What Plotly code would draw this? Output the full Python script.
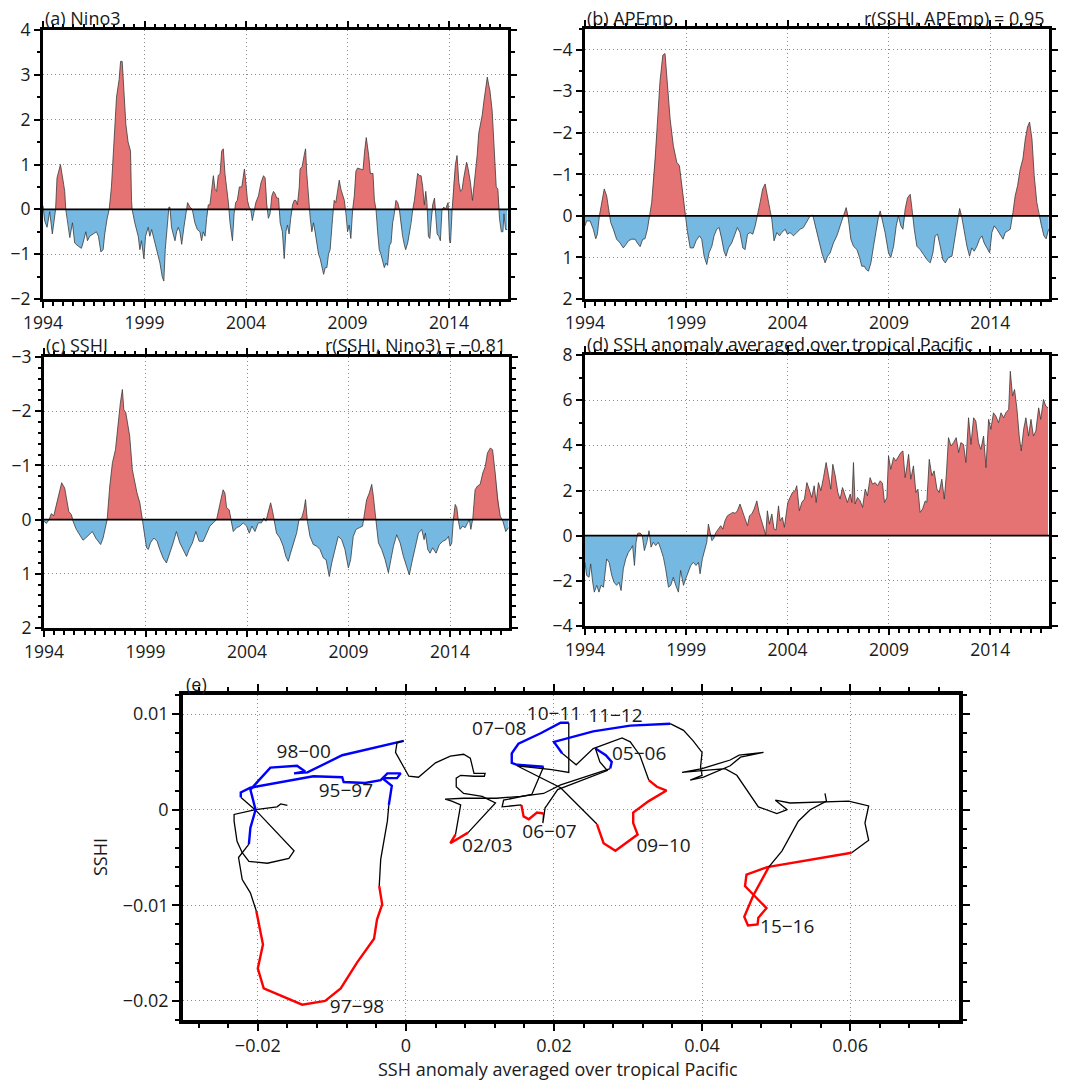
import numpy as np
import plotly.graph_objects as go

FONT = "Open Sans"
TXT = "#1a1a1a"
RED_FILL = "rgb(229,115,115)"
BLUE_FILL = "rgb(117,185,227)"

# ---------------- (a) Nino3 ----------------
a_t = [1994.00,1994.08,1994.20,1994.33,1994.46,1994.62,1994.69,1994.86,1995.02,1995.07,1995.12,1995.23,1995.32,1995.45,1995.56,1995.73,1995.89,1995.97,1996.11,1996.19,1996.30,1996.47,1996.63,1996.73,1996.85,1996.96,1997.04,1997.16,1997.26,1997.37,1997.54,1997.62,1997.75,1997.82,1997.90,1997.98,1998.08,1998.19,1998.31,1998.36,1998.39,1998.52,1998.69,1998.77,1998.85,1998.97,1999.05,1999.18,1999.26,1999.35,1999.43,1999.59,1999.76,1999.87,1999.95,2000.02,2000.13,2000.20,2000.25,2000.33,2000.41,2000.50,2000.58,2000.66,2000.74,2000.83,2000.94,2001.04,2001.12,2001.24,2001.35,2001.48,2001.60,2001.73,2001.81,2001.89,2001.98,2002.06,2002.14,2002.22,2002.31,2002.39,2002.47,2002.55,2002.63,2002.72,2002.80,2002.88,2002.96,2003.05,2003.13,2003.21,2003.33,2003.41,2003.49,2003.57,2003.67,2003.79,2003.92,2004.00,2004.07,2004.15,2004.23,2004.31,2004.39,2004.48,2004.61,2004.74,2004.86,2004.94,2005.02,2005.10,2005.18,2005.27,2005.35,2005.43,2005.51,2005.60,2005.68,2005.79,2005.88,2005.96,2006.04,2006.12,2006.20,2006.29,2006.37,2006.45,2006.53,2006.62,2006.66,2006.76,2006.86,2006.93,2006.99,2007.08,2007.16,2007.24,2007.32,2007.40,2007.49,2007.57,2007.65,2007.73,2007.82,2007.90,2007.98,2008.06,2008.14,2008.26,2008.34,2008.42,2008.51,2008.59,2008.67,2008.75,2008.84,2008.92,2009.00,2009.08,2009.16,2009.25,2009.33,2009.41,2009.49,2009.63,2009.76,2009.84,2009.92,2010.04,2010.12,2010.20,2010.25,2010.32,2010.40,2010.48,2010.56,2010.64,2010.73,2010.81,2010.89,2010.97,2011.06,2011.14,2011.22,2011.30,2011.38,2011.47,2011.55,2011.63,2011.71,2011.80,2011.86,2011.96,2012.04,2012.13,2012.21,2012.29,2012.37,2012.45,2012.54,2012.62,2012.70,2012.78,2012.85,2012.91,2012.98,2013.05,2013.11,2013.19,2013.28,2013.33,2013.41,2013.49,2013.57,2013.65,2013.74,2013.82,2013.90,2013.95,2014.02,2014.07,2014.15,2014.23,2014.31,2014.39,2014.48,2014.56,2014.64,2014.72,2014.86,2014.94,2015.05,2015.15,2015.22,2015.30,2015.38,2015.46,2015.55,2015.63,2015.71,2015.79,2015.88,2015.96,2016.01,2016.12,2016.20,2016.32,2016.40,2016.48,2016.57,2016.65,2016.70,2016.78,2016.86]
a_v = [0.08,-0.25,-0.40,-0.05,-0.55,0.00,0.70,1.00,0.55,0.40,0.00,-0.30,-0.63,-0.30,-0.75,-0.82,-0.87,-0.75,-0.50,-0.70,-0.60,-0.55,-0.50,-0.60,-0.95,-0.90,-0.55,-0.20,0.00,0.50,1.70,2.50,2.90,3.30,3.30,2.70,1.90,1.50,1.30,0.20,0.00,-0.30,-0.60,-0.90,-0.70,-1.10,-0.60,-0.40,-0.60,-0.45,-0.60,-0.90,-1.20,-1.50,-1.60,-0.90,-0.20,0.05,0.05,-0.40,-0.55,-0.70,-0.50,-0.40,-0.50,-0.78,-0.40,-0.10,0.15,0.05,0.00,-0.30,-0.45,-0.50,-0.70,-0.50,-0.60,-0.20,0.10,0.10,0.40,0.75,0.45,0.40,0.75,0.80,1.30,1.35,0.80,0.50,0.15,-0.30,-0.70,-0.10,0.15,0.20,0.50,0.50,0.90,0.55,0.20,0.05,0.00,-0.25,-0.05,0.15,0.30,0.60,0.75,0.70,0.10,-0.20,-0.10,0.30,0.40,0.35,0.25,0.25,-0.30,-0.50,-1.10,-0.50,-0.35,-0.55,-0.20,0.10,0.20,0.20,0.10,0.50,0.90,0.95,1.20,1.35,0.80,0.20,-0.20,-0.50,-0.30,-0.50,-0.80,-1.00,-1.10,-1.30,-1.45,-1.30,-1.30,-1.00,-0.90,-0.20,0.20,0.15,0.40,0.65,0.45,0.35,0.20,-0.10,-0.50,-0.35,-0.65,0.00,0.30,0.85,0.92,0.90,0.88,1.30,1.60,1.20,0.80,0.80,0.80,0.20,0.00,-0.50,-0.90,-1.00,-1.15,-1.30,-1.20,-1.25,-0.80,-0.75,-0.30,-0.10,0.20,0.15,0.00,-0.35,-0.60,-0.80,-0.90,-0.75,-0.55,-0.30,0.00,0.20,0.50,0.80,0.75,0.75,0.50,0.10,0.40,0.15,-0.60,-0.65,-0.30,0.10,0.25,0.00,-0.55,-0.60,-0.70,0.00,0.05,0.00,0.10,0.15,-0.70,-0.75,0.00,0.60,1.00,1.20,0.60,0.40,0.45,0.70,1.05,0.90,0.60,0.20,0.50,1.00,1.20,1.70,1.90,2.10,2.40,2.70,2.95,2.75,2.65,2.20,1.50,0.50,0.45,-0.20,-0.50,-0.50,-0.10,-0.45,-0.45]

# ---------------- (b) APEmp ----------------
b_t = [1994.00,1994.08,1994.25,1994.41,1994.53,1994.61,1994.71,1994.82,1994.95,1995.07,1995.19,1995.27,1995.40,1995.56,1995.73,1995.89,1996.02,1996.14,1996.30,1996.47,1996.58,1996.72,1996.85,1996.96,1997.08,1997.18,1997.29,1997.46,1997.57,1997.70,1997.84,1997.95,1998.07,1998.20,1998.36,1998.53,1998.66,1998.77,1998.89,1998.97,1999.05,1999.19,1999.35,1999.48,1999.65,1999.76,1999.88,2000.01,2000.12,2000.26,2000.37,2000.50,2000.62,2000.75,2000.86,2000.96,2001.08,2001.24,2001.41,2001.52,2001.65,2001.79,2001.90,2002.02,2002.15,2002.28,2002.40,2002.51,2002.64,2002.77,2002.89,2003.00,2003.14,2003.22,2003.33,2003.47,2003.60,2003.71,2003.88,2003.99,2004.12,2004.29,2004.45,2004.62,2004.78,2004.95,2005.11,2005.24,2005.36,2005.52,2005.69,2005.85,2005.97,2006.10,2006.26,2006.43,2006.59,2006.76,2006.89,2007.00,2007.12,2007.25,2007.42,2007.55,2007.66,2007.78,2007.88,2007.99,2008.11,2008.24,2008.37,2008.49,2008.57,2008.68,2008.81,2008.98,2009.09,2009.23,2009.36,2009.47,2009.59,2009.69,2009.80,2009.92,2010.05,2010.16,2010.25,2010.38,2010.54,2010.71,2010.87,2011.04,2011.17,2011.28,2011.40,2011.53,2011.66,2011.78,2011.94,2012.11,2012.24,2012.39,2012.49,2012.60,2012.72,2012.85,2012.98,2013.09,2013.21,2013.34,2013.47,2013.59,2013.70,2013.84,2013.97,2014.08,2014.20,2014.33,2014.46,2014.63,2014.74,2014.86,2014.99,2015.12,2015.23,2015.35,2015.48,2015.61,2015.73,2015.84,2015.94,2016.06,2016.17,2016.30,2016.41,2016.53,2016.65,2016.76,2016.88]
b_v = [0.24,0.12,0.12,0.32,0.55,0.44,0.00,-0.32,-0.65,-0.48,-0.08,0.16,0.32,0.56,0.65,0.77,0.69,0.60,0.56,0.56,0.65,0.74,0.56,0.55,0.32,0.04,-0.32,-1.37,-2.18,-3.23,-3.87,-3.91,-3.15,-2.34,-1.69,-1.29,-1.21,-0.73,-0.24,0.00,0.36,0.77,0.77,0.60,0.48,0.56,0.97,1.17,0.89,0.73,0.48,0.32,0.28,0.56,0.85,0.97,0.77,0.65,0.40,0.28,0.40,0.77,0.81,0.44,0.40,0.44,0.24,0.00,-0.32,-0.65,-0.77,-0.48,-0.08,0.08,0.60,0.40,0.48,0.40,0.32,0.44,0.40,0.48,0.40,0.32,0.28,0.12,0.00,-0.02,0.24,0.56,0.89,1.13,0.97,0.89,0.65,0.48,0.24,0.00,-0.20,0.08,0.56,0.73,0.81,1.00,1.21,1.21,1.29,1.33,1.13,0.73,0.32,0.00,-0.12,0.12,0.40,0.89,1.00,0.73,0.24,0.00,0.24,0.32,-0.16,-0.44,-0.52,-0.08,0.32,0.73,0.81,0.93,1.05,1.13,0.89,0.48,0.44,0.73,1.05,1.13,1.00,0.97,0.56,0.08,-0.18,0.04,0.40,0.73,0.97,0.77,0.85,0.73,0.56,0.48,0.65,0.77,0.89,0.40,0.24,0.32,0.44,0.56,0.40,0.36,0.32,-0.08,-0.48,-0.73,-1.13,-1.37,-1.85,-2.14,-2.26,-1.85,-0.97,-0.32,0.00,0.24,0.48,0.55,0.32]

# ---------------- (c) SSHI ----------------
c_t = [1994.00,1994.12,1994.25,1994.36,1994.48,1994.61,1994.74,1994.87,1995.02,1995.10,1995.22,1995.35,1995.43,1995.59,1995.76,1995.92,1996.05,1996.22,1996.38,1996.55,1996.71,1996.79,1996.91,1997.02,1997.11,1997.24,1997.37,1997.52,1997.65,1997.76,1997.86,1997.93,1998.03,1998.14,1998.22,1998.35,1998.47,1998.58,1998.72,1998.85,1998.96,1999.05,1999.14,1999.24,1999.41,1999.57,1999.70,1999.87,2000.03,2000.20,2000.36,2000.52,2000.69,2000.85,2001.02,2001.15,2001.31,2001.48,2001.64,2001.84,2002.00,2002.17,2002.33,2002.50,2002.66,2002.82,2002.91,2002.99,2003.12,2003.22,2003.32,2003.48,2003.65,2003.81,2003.98,2004.11,2004.24,2004.39,2004.55,2004.71,2004.83,2004.93,2005.04,2005.16,2005.26,2005.32,2005.45,2005.62,2005.78,2005.91,2006.03,2006.14,2006.28,2006.44,2006.56,2006.69,2006.80,2006.88,2006.97,2007.10,2007.26,2007.43,2007.59,2007.76,2007.89,2008.05,2008.17,2008.33,2008.49,2008.66,2008.82,2008.99,2009.10,2009.23,2009.37,2009.53,2009.69,2009.81,2009.89,2010.02,2010.14,2010.22,2010.34,2010.47,2010.63,2010.80,2010.96,2011.08,2011.21,2011.37,2011.54,2011.70,2011.86,2011.99,2012.11,2012.27,2012.44,2012.60,2012.72,2012.78,2012.90,2013.01,2013.14,2013.31,2013.47,2013.64,2013.80,2013.92,2014.00,2014.08,2014.16,2014.25,2014.33,2014.41,2014.49,2014.62,2014.74,2014.86,2014.95,2015.02,2015.12,2015.23,2015.35,2015.48,2015.61,2015.73,2015.84,2015.98,2016.09,2016.22,2016.34,2016.47,2016.60,2016.74,2016.87]
c_v = [0.03,0.07,0.00,-0.11,-0.07,-0.28,-0.49,-0.68,-0.58,-0.37,-0.15,-0.09,0.03,0.18,0.28,0.38,0.34,0.28,0.22,0.34,0.43,0.46,0.34,0.18,0.00,-0.62,-1.05,-1.29,-1.78,-2.15,-2.40,-2.03,-1.97,-1.66,-1.54,-0.92,-0.68,-0.49,-0.31,0.00,0.31,0.52,0.55,0.43,0.34,0.40,0.55,0.71,0.80,0.62,0.43,0.22,0.43,0.55,0.68,0.55,0.43,0.22,0.40,0.40,0.25,0.12,0.06,0.00,-0.28,-0.55,-0.49,-0.22,-0.18,0.03,0.22,0.15,0.12,0.06,0.12,0.25,0.12,0.22,0.06,0.06,-0.03,0.03,-0.15,-0.31,-0.15,0.00,0.25,0.34,0.49,0.68,0.77,0.62,0.43,0.25,0.00,-0.03,-0.18,-0.37,0.03,0.31,0.46,0.49,0.55,0.71,0.74,1.05,0.80,0.55,0.31,0.37,0.55,0.89,0.74,0.31,0.18,0.15,0.12,-0.18,-0.37,-0.49,-0.65,-0.43,0.00,0.43,0.55,0.74,0.98,0.74,0.49,0.28,0.43,0.68,0.86,1.02,0.80,0.55,0.25,0.18,0.37,0.25,0.55,0.62,0.52,0.62,0.46,0.40,0.37,0.31,0.49,0.43,0.00,-0.28,-0.22,0.03,0.18,0.12,0.15,0.06,0.00,0.18,-0.03,-0.55,-0.62,-0.65,-0.86,-0.98,-1.23,-1.32,-1.29,-0.86,-0.37,-0.06,0.03,0.22,0.15]

# ---------------- (d) SSH anomaly averaged over tropical Pacific ----------------
d_t = [1994.00,1994.08,1994.20,1994.28,1994.38,1994.46,1994.58,1994.69,1994.79,1994.91,1995.07,1995.19,1995.32,1995.43,1995.56,1995.68,1995.78,1995.89,1996.01,1996.14,1996.26,1996.35,1996.44,1996.52,1996.60,1996.72,1996.83,1996.93,1997.05,1997.16,1997.26,1997.37,1997.49,1997.62,1997.74,1997.87,1997.98,1998.12,1998.23,1998.36,1998.48,1998.61,1998.72,1998.86,1998.97,1999.10,1999.22,1999.35,1999.48,1999.60,1999.68,1999.79,1999.93,2000.01,2000.09,2000.17,2000.26,2000.34,2000.45,2000.58,2000.70,2000.80,2000.91,2001.03,2001.16,2001.29,2001.41,2001.52,2001.65,2001.79,2001.90,2002.02,2002.12,2002.23,2002.35,2002.48,2002.59,2002.72,2002.84,2002.92,2003.00,2003.10,2003.22,2003.33,2003.43,2003.55,2003.63,2003.74,2003.84,2004.01,2004.12,2004.24,2004.37,2004.45,2004.58,2004.70,2004.83,2004.95,2005.06,2005.19,2005.31,2005.41,2005.52,2005.64,2005.77,2005.90,2006.02,2006.13,2006.23,2006.35,2006.48,2006.59,2006.71,2006.84,2006.95,2007.09,2007.17,2007.25,2007.33,2007.45,2007.58,2007.70,2007.83,2007.94,2008.07,2008.19,2008.32,2008.44,2008.57,2008.68,2008.78,2008.90,2008.98,2009.09,2009.23,2009.34,2009.47,2009.59,2009.69,2009.80,2009.88,2009.97,2010.08,2010.21,2010.33,2010.43,2010.54,2010.66,2010.79,2010.87,2010.99,2011.12,2011.23,2011.37,2011.48,2011.61,2011.73,2011.83,2011.94,2012.06,2012.19,2012.32,2012.44,2012.55,2012.68,2012.80,2012.93,2013.05,2013.18,2013.29,2013.42,2013.54,2013.67,2013.79,2013.92,2014.03,2014.16,2014.28,2014.41,2014.53,2014.66,2014.77,2014.91,2014.99,2015.10,2015.20,2015.32,2015.43,2015.53,2015.65,2015.76,2015.89,2016.01,2016.13,2016.25,2016.39,2016.49,2016.63,2016.74,2016.85]
d_v = [-1.18,-1.76,-1.84,-1.25,-2.06,-2.50,-2.20,-2.50,-2.20,-2.28,-1.03,-1.18,-1.76,-2.06,-2.20,-2.06,-2.43,-1.47,-1.03,-0.74,-0.59,-0.44,-1.32,-0.29,0.10,0.12,0.00,-0.66,-0.29,0.22,-0.51,-0.29,-0.44,-0.29,-0.59,-0.96,-1.47,-2.28,-2.20,-1.84,-2.20,-2.50,-1.54,-2.20,-1.91,-1.62,-1.32,-1.18,-1.32,-1.18,-1.69,-1.03,-0.59,-0.29,0.51,0.22,-0.22,-0.15,0.12,0.29,0.44,0.29,0.66,0.88,0.96,1.03,0.99,1.10,1.40,1.03,0.66,0.44,0.88,0.96,1.18,1.54,1.03,0.66,0.29,0.03,1.10,0.51,0.96,0.29,0.25,1.32,0.66,0.81,0.37,1.47,1.69,1.91,1.99,2.21,1.10,1.47,1.62,2.35,2.06,1.69,2.21,1.47,2.35,1.99,2.57,3.24,2.65,2.06,3.16,2.65,1.91,1.62,2.13,1.76,1.47,1.84,1.47,3.24,1.40,1.69,1.54,1.25,2.06,1.76,2.57,2.28,2.35,2.21,2.43,2.32,1.47,1.69,3.53,2.94,3.46,3.31,3.53,3.68,3.75,2.57,3.01,3.60,2.50,3.09,1.91,2.06,1.03,1.18,1.54,1.47,3.38,2.65,2.87,2.06,1.91,2.50,1.62,2.65,4.34,3.97,4.12,4.34,3.68,4.12,4.04,3.24,5.22,4.04,5.22,5.07,4.12,3.82,4.41,3.01,5.15,4.71,5.44,5.29,5.00,5.44,5.22,5.44,5.59,7.28,6.18,6.47,5.59,4.41,3.75,4.71,5.22,4.41,5.15,4.41,4.63,5.66,5.15,6.03,5.74,5.66]

# ---------------- (e) phase trajectory ----------------
e_x = [-0.0160,-0.0169,-0.0174,-0.0203,-0.0232,-0.0232,-0.0228,-0.0221,-0.0212,-0.0187,-0.0158,-0.0151,-0.0201,-0.0215,-0.0223,
       -0.0223,-0.0210,-0.0125,-0.0086,-0.0084,-0.0055,-0.0034,-0.0025,-0.0007,-0.0012,-0.0032,-0.0019,-0.0023,
       -0.0025,-0.0034,-0.0036,
       -0.0032,-0.0039,-0.0043,-0.0066,-0.0088,-0.0109,-0.0140,-0.0192,-0.0200,-0.0193,-0.0201,-0.0202,
       -0.0210,-0.0221,-0.0226,-0.0212,
       -0.0210,-0.0203,-0.0210,-0.0183,-0.0147,-0.0136,-0.0151,-0.0133,-0.0086,-0.0003,
       -0.0012,-0.0014,-0.0005,0.0004,0.0017,0.0040,0.0060,0.0078,0.0087,0.0092,0.0107,0.0106,0.0092,0.0074,0.0068,0.0068,0.0078,0.0103,0.0121,0.0084,
       0.0060,0.0067,
       0.0071,0.0074,0.0062,0.0053,0.0078,0.0122,0.0155,0.0186,0.0209,0.0276,
       0.0278,0.0270,0.0256,
       0.0262,0.0272,0.0205,0.0190,0.0188,0.0185,0.0186,
       0.0177,0.0166,0.0159,0.0156,
       0.0130,0.0132,0.0170,0.0186,
       0.0150,0.0143,0.0143,0.0152,0.0182,0.0209,0.0220,
       0.0220,0.0197,0.0150,0.0209,0.0258,
       0.0267,0.0283,0.0313,0.0307,0.0307,0.0328,0.0352,0.0339,0.0328,
       0.0316,0.0303,0.0292,0.0253,0.0230,0.0211,
       0.0200,0.0253,0.0303,0.0357,
       0.0375,0.0388,0.0400,0.0398,0.0400,0.0384,0.0402,0.0438,0.0452,0.0483,0.0450,0.0438,0.0400,0.0373,0.0416,0.0431,0.0447,0.0476,0.0501,0.0515,0.0499,0.0519,0.0598,0.0625,0.0620,0.0625,0.0602,
       0.0488,0.0460,0.0458,0.0487,0.0476,0.0475,0.0462,0.0457,0.0469,0.0490,
       0.0508,0.0530,0.0546,0.0568,0.0566]
e_y = [0.00045,0.0006,0.0003,0.0000,-0.0005,-0.0012,-0.0033,-0.0045,-0.0054,-0.0056,-0.0051,-0.0043,-0.0002,0.0008,0.0013,
       0.0018,0.0023,0.0035,0.0034,0.0029,0.0028,0.0031,0.0038,0.0038,0.0033,0.0033,0.0025,0.0005,
       -0.0012,-0.0052,-0.0080,
       -0.0099,-0.0115,-0.0135,-0.0160,-0.0187,-0.0200,-0.0204,-0.0187,-0.0166,-0.0141,-0.0111,-0.0106,
       -0.0087,-0.0073,-0.0050,-0.0036,
       -0.0019,0.0000,0.0021,0.0044,0.0046,0.0040,0.0038,0.0039,0.0057,0.0072,
       0.0070,0.0060,0.0047,0.0035,0.0034,0.0049,0.0056,0.0058,0.0054,0.0038,0.0038,0.0035,0.0035,0.0036,0.0033,0.0024,0.0017,0.0014,0.0007,-0.0024,
       -0.0035,-0.0026,
       -0.0010,0.0005,0.0009,0.0011,0.0012,0.0012,0.0014,0.0017,0.0026,0.0043,
       0.0050,0.0057,0.0064,
       0.0050,0.0041,0.0021,0.0004,0.0002,-0.0014,-0.0004,
       -0.0003,-0.0010,-0.0007,0.0005,
       0.0003,0.0010,0.0016,0.0045,
       0.0047,0.0049,0.0059,0.0069,0.0080,0.0091,0.0091,
       0.0039,0.0042,0.0046,0.0023,-0.0015,
       -0.0035,-0.0043,-0.0026,-0.0014,-0.0003,0.0009,0.0020,0.0024,0.0031,
       0.0057,0.0071,0.0075,0.0064,0.0047,0.0059,
       0.0071,0.0082,0.0088,0.0090,
       0.0083,0.0072,0.0060,0.0045,0.0036,0.0031,0.0034,0.0046,0.0055,0.0060,0.0057,0.0052,0.0043,0.0039,0.0042,0.0043,0.0036,0.0003,-0.0004,0.0000,0.0010,0.0007,0.0009,0.0004,-0.0014,-0.0032,-0.0045,
       -0.0060,-0.0068,-0.0080,-0.0103,-0.0113,-0.0120,-0.0121,-0.0112,-0.0090,-0.0060,
       -0.0043,-0.0012,0.0000,0.0009,0.0017]
# phase of the segment arriving at each point: k = neutral, r = El Nino, b = La Nina
e_phase = ("k"*15 + "b"*13 + "k"*3 + "r"*12 + "k"*4 + "b"*10 + "k"*20 + "r"*2 + "k"*10 + "b"*3 +
           "k"*7 + "r"*4 + "k"*4 + "b"*7 + "k"*5 + "r"*9 + "k"*6 + "b"*4 + "k"*27 + "r"*10 + "k"*5)

e_lab_text = ["98−00", "95−97", "97−98", "02/03", "06−07", "07−08", "10−11", "11−12", "05−06", "09−10", "15−16"]
e_lab_x = [-0.0138, -0.0081, -0.0066, 0.0110, 0.0194, 0.0126, 0.0200, 0.0283, 0.0315, 0.0348, 0.0515]
e_lab_y = [0.0059, 0.0018, -0.0208, -0.0039, -0.0025, 0.0083, 0.0099, 0.0097, 0.0057, -0.0039, -0.0124]

assert len(e_x) == len(e_y) == len(e_phase)

fig = go.Figure()


def split_sign(t, v):
    t = list(t); v = list(v)
    T = [t[0]]; V = [v[0]]
    for i in range(1, len(t)):
        if v[i - 1] * v[i] < 0:
            tc = t[i - 1] + (t[i] - t[i - 1]) * (-v[i - 1]) / (v[i] - v[i - 1])
            T.append(tc); V.append(0.0)
        T.append(t[i]); V.append(v[i])
    T = np.array(T); V = np.array(V)
    return T, np.where(V > 0, V, 0.0), np.where(V < 0, V, 0.0)


def add_series(t, v, xa, ya, pos_col, neg_col):
    T, P, N = split_sign(t, v)
    fig.add_trace(go.Scatter(x=T, y=P, mode="lines", fill="tozeroy", fillcolor=pos_col,
                             line=dict(width=0), xaxis=xa, yaxis=ya, showlegend=False, hoverinfo="skip"))
    fig.add_trace(go.Scatter(x=T, y=N, mode="lines", fill="tozeroy", fillcolor=neg_col,
                             line=dict(width=0), xaxis=xa, yaxis=ya, showlegend=False, hoverinfo="skip"))
    fig.add_trace(go.Scatter(x=t, y=v, mode="lines", line=dict(color="#3a3a3a", width=0.8),
                             xaxis=xa, yaxis=ya, showlegend=False))


# reversed axes (b, c): upward excursions (negative values) are red
add_series(a_t, a_v, "x", "y", RED_FILL, BLUE_FILL)
add_series(b_t, b_v, "x2", "y2", BLUE_FILL, RED_FILL)
add_series(c_t, c_v, "x3", "y3", BLUE_FILL, RED_FILL)
add_series(d_t, d_v, "x4", "y4", RED_FILL, BLUE_FILL)

# panel (e) trajectory, grouped into runs of equal phase
colmap = {"k": ("black", 1.3), "r": ("#ff0000", 2.4), "b": ("#0000ff", 2.4)}
run_x = [e_x[0]]; run_y = [e_y[0]]; cur = e_phase[1]
for i in range(1, len(e_x)):
    if e_phase[i] != cur:
        c, w = colmap[cur]
        fig.add_trace(go.Scatter(x=run_x, y=run_y, mode="lines", line=dict(color=c, width=w),
                                 xaxis="x5", yaxis="y5", showlegend=False))
        run_x = [e_x[i - 1]]; run_y = [e_y[i - 1]]; cur = e_phase[i]
    run_x.append(e_x[i]); run_y.append(e_y[i])
c, w = colmap[cur]
fig.add_trace(go.Scatter(x=run_x, y=run_y, mode="lines", line=dict(color=c, width=w),
                         xaxis="x5", yaxis="y5", showlegend=False))

fig.add_trace(go.Scatter(x=e_lab_x, y=e_lab_y, mode="text", text=e_lab_text,
                         textfont=dict(family=FONT, size=19, color=TXT),
                         xaxis="x5", yaxis="y5", showlegend=False))


def axis(domain, anchor, rng, lw=3, tlen=6, mlen=3.5, fs=17.5, **kw):
    d = dict(domain=domain, anchor=anchor, range=rng, showline=True, linecolor="black", linewidth=lw,
             mirror="allticks", ticks="outside", ticklen=tlen, tickwidth=2, tickcolor="black",
             showgrid=True, gridcolor="#8a8a8a", griddash="1px,3px", gridwidth=1, zeroline=False,
             automargin=False, tickfont=dict(family=FONT, size=fs, color=TXT))
    d.update(kw)
    d.setdefault("minor", {})
    d["minor"].update(dict(ticks="outside", ticklen=mlen, tickwidth=1.5, tickcolor="black", showgrid=False))
    return d


W = 1084.0
def fx(px): return px / W
def fy(px): return 1 - px / W

XR = [1994, 2016.9]
xkw = dict(tick0=1994, dtick=5, tickformat="d", minor=dict(tick0=1994, dtick=0.5))

layout = dict(
    width=1084, height=1084, margin=dict(l=0, r=0, t=0, b=0, pad=0, autoexpand=False),
    paper_bgcolor="white", plot_bgcolor="white", showlegend=False,
    xaxis=axis([fx(43), fx(508)], "y", XR, **xkw),
    yaxis=axis([fy(299), fy(30)], "x", [-2, 4], dtick=1, minor=dict(dtick=0.5)),
    xaxis2=axis([fx(585), fx(1049)], "y2", XR, **xkw),
    yaxis2=axis([fy(299), fy(29)], "x2", [2, -4.5], tick0=0, dtick=1, minor=dict(tick0=0, dtick=0.5)),
    xaxis3=axis([fx(44), fx(509)], "y3", XR, **xkw),
    yaxis3=axis([fy(628), fy(357)], "x3", [2, -3], tick0=0, dtick=1, minor=dict(tick0=0, dtick=0.2)),
    xaxis4=axis([fx(585), fx(1049)], "y4", XR, **xkw),
    yaxis4=axis([fy(626), fy(355)], "x4", [-4, 8], tick0=0, dtick=2, minor=dict(tick0=0, dtick=1)),
    xaxis5=axis([fx(183), fx(959)], "y5", [-0.0301, 0.0747], lw=3.5, tlen=7, mlen=4, fs=18,
                tick0=0, dtick=0.02, minor=dict(tick0=0, dtick=0.004)),
    yaxis5=axis([fy(1020), fy(695)], "x5", [-0.022, 0.012], lw=3.5, tlen=7, mlen=4, fs=18,
                tick0=0, dtick=0.01, minor=dict(tick0=0, dtick=0.002)),
)
fig.update_layout(**layout)

# zero lines on the time series panels
shapes = []
for xa, ya in [("x", "y"), ("x2", "y2"), ("x3", "y3"), ("x4", "y4")]:
    shapes.append(dict(type="line", xref=xa + " domain", yref=ya, x0=0, x1=1, y0=0, y1=0,
                       line=dict(color="black", width=1.6), layer="above"))
fig.update_layout(shapes=shapes)

TF = dict(family=FONT, size=18, color=TXT)
ann = [
    dict(text="(a) Nino3", x=fx(43), y=fy(18), xanchor="left", yanchor="middle"),
    dict(text="(b) APEmp", x=fx(585), y=fy(18), xanchor="left", yanchor="middle"),
    dict(text="r(SSHI, APEmp) = 0.95", x=fx(1046), y=fy(18), xanchor="right", yanchor="middle"),
    dict(text="(c) SSHI", x=fx(44), y=fy(345), xanchor="left", yanchor="middle"),
    dict(text="r(SSHI, Nino3) = −0.81", x=fx(508), y=fy(345), xanchor="right", yanchor="middle"),
    dict(text="(d) SSH anomaly averaged over tropical Pacific", x=fx(585), y=fy(344), xanchor="left", yanchor="middle"),
    dict(text="(e)", x=fx(184), y=fy(684), xanchor="left", yanchor="middle"),
    dict(text="SSHI", x=fx(100), y=fy(857), xanchor="center", yanchor="middle", textangle=-90),
    dict(text="SSH anomaly averaged over tropical Pacific", x=fx(558), y=fy(1069), xanchor="center", yanchor="middle"),
]
for a in ann:
    a.update(dict(xref="paper", yref="paper", showarrow=False, font=TF))
fig.update_layout(annotations=ann)

fig.write_html("out.html")
